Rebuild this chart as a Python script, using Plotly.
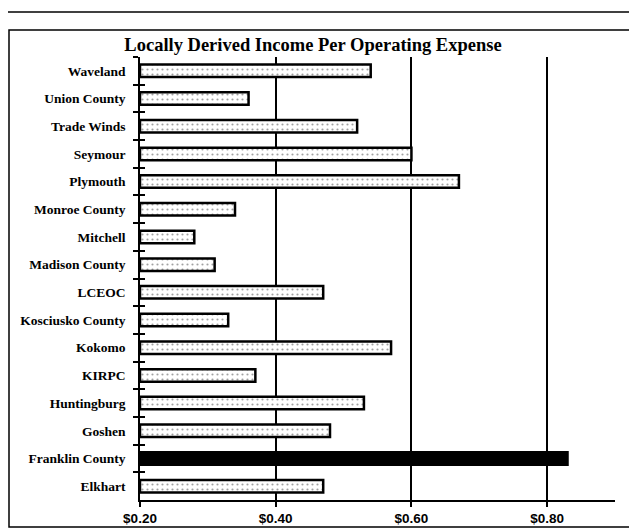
import plotly.graph_objects as go

categories = ["Waveland", "Union County", "Trade Winds", "Seymour", "Plymouth",
              "Monroe County", "Mitchell", "Madison County", "LCEOC",
              "Kosciusko County", "Kokomo", "KIRPC", "Huntingburg", "Goshen",
              "Franklin County", "Elkhart"]
values = [0.54, 0.36, 0.52, 0.60, 0.67, 0.34, 0.28, 0.31, 0.47,
          0.33, 0.57, 0.37, 0.53, 0.48, 0.83, 0.47]
highlight = "Franklin County"
x_ticks = [0.20, 0.40, 0.60, 0.80]
x_tick_labels = ["$0.20", "$0.40", "$0.60", "$0.80"]
title_text = "Locally Derived Income Per Operating Expense"

fill_colors = ["black" if c == highlight else "white" for c in categories]
shapes_pat = ["" if c == highlight else "." for c in categories]

fig = go.Figure()
fig.add_trace(go.Bar(
    y=categories, x=[v - 0.20 for v in values], base=0.20,
    orientation="h",
    marker=dict(color=fill_colors,
                line=dict(color="black", width=2.5),
                pattern=dict(shape=shapes_pat, fillmode="overlay",
                             fgcolor="#8a8a8a", size=5, solidity=0.15)),
    hoverinfo="skip",
))
# invisible trace on overlay axis to draw inside ticks
fig.add_trace(go.Bar(y=categories, x=[None]*len(categories), orientation="h",
                     yaxis="y2", showlegend=False, hoverinfo="skip"))

serif = "Liberation Serif, Times New Roman, serif"
W, H = 629, 521
L, R, T, B = 132, 22, 49, 29
PW, PH = W - L - R, H - T - B
fig.update_layout(
    width=W, height=H,
    margin=dict(l=L, r=R, t=T, b=B, autoexpand=False),
    paper_bgcolor="white", plot_bgcolor="white",
    showlegend=False, bargap=0.55,
    title=dict(text="<b>" + title_text + "</b>", x=305 / W, xanchor="center",
               y=1 - 37 / H, yanchor="middle",
               font=dict(family=serif, size=18.5, color="black")),
    xaxis=dict(range=[0.20, 0.90], tickvals=x_ticks, ticktext=x_tick_labels,
               showgrid=True, gridcolor="black", gridwidth=1.5,
               showline=True, linecolor="black", linewidth=1.5,
               ticks="outside", ticklen=5, tickcolor="black", tickwidth=1.5,
               zeroline=False,
               tickfont=dict(family="Liberation Sans, Arial, sans-serif",
                             size=13.5, color="black", weight="bold")),
    yaxis=dict(categoryorder="array", categoryarray=categories,
               autorange="reversed", showline=True, linecolor="black",
               linewidth=1.5, ticks="outside", ticklen=5, tickcolor="black",
               tickwidth=1.5, tickson="boundaries", showgrid=False,
               ticklabelstandoff=10,
               tickfont=dict(family=serif, size=13.5, color="black", weight="bold")),
    yaxis2=dict(overlaying="y", side="left", categoryorder="array",
                categoryarray=categories, autorange="reversed",
                ticks="inside", ticklen=5, tickcolor="black", tickwidth=1.5,
                tickson="boundaries", showticklabels=False, showgrid=False,
                showline=False),
    shapes=[
        dict(type="line", xref="paper", yref="paper", x0=-L / PW, x1=1 + R / PW,
             y0=1 + (T - 4) / PH, y1=1 + (T - 4) / PH,
             line=dict(color="black", width=1.5)),
        dict(type="rect", xref="paper", yref="paper", x0=-(L - 1) / PW,
             x1=(624 - L) / PW, y0=-27 / PH, y1=1 + 27 / PH,
             line=dict(color="black", width=1.5)),
    ],
)

fig.write_html("out.html")
